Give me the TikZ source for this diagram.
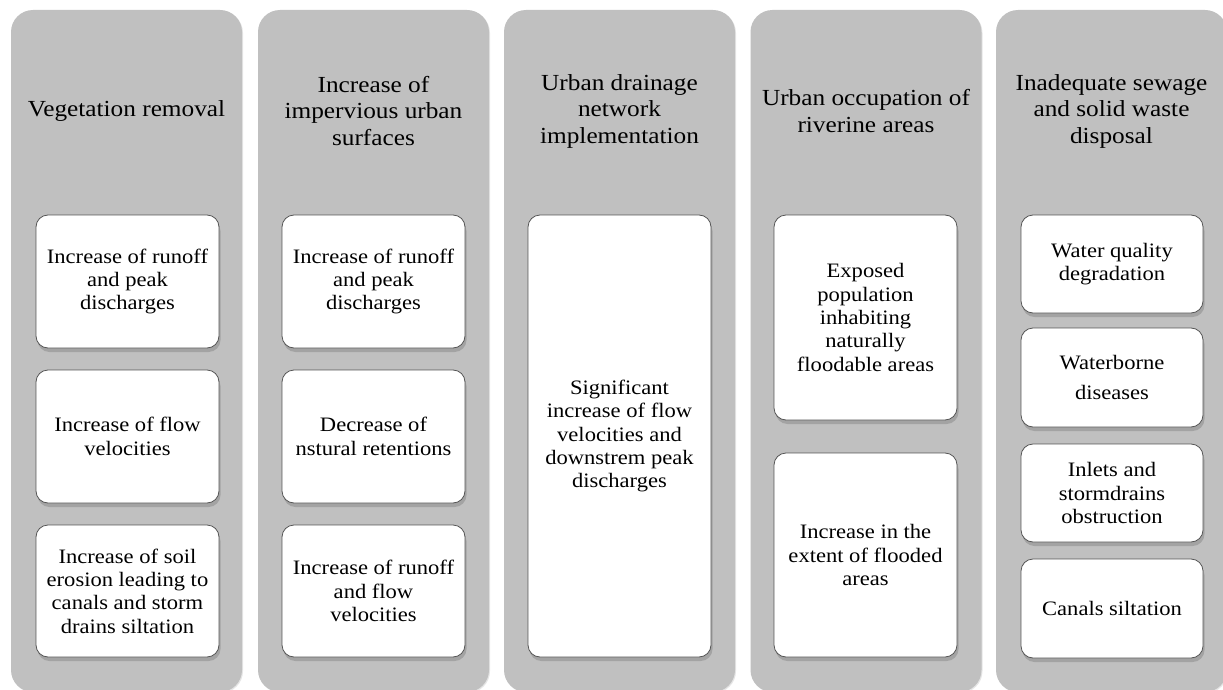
\documentclass[tikz,border=0pt]{standalone}
\usepackage{fontspec}
\setmainfont{Liberation Serif}
\newfontfamily\dfont[FakeStretch=1.1]{Liberation Serif}
\usetikzlibrary{shadows}
\definecolor{colgray}{RGB}{192,192,192}
\definecolor{edgegray}{RGB}{85,85,85}
\begin{document}
\begin{tikzpicture}[x=1pt,y=-1pt,
 column/.style={draw=none, fill=colgray, rounded corners=22pt, minimum width=231pt, minimum height=682pt, inner sep=0pt,
   drop shadow={shadow xshift=1pt, shadow yshift=-1pt, opacity=0.2}},
 title/.style={align=center, font=\dfont\fontsize{23}{26.5}\selectfont, text=black, inner sep=0pt},
 card/.style={draw=edgegray, line width=0.8pt, fill=white, rounded corners=12pt, minimum width=183pt, inner sep=0pt,
   align=center, font=\dfont\fontsize{20.5}{23.3}\selectfont,
   drop shadow={shadow xshift=1.5pt, shadow yshift=-4pt, opacity=0.45}},
]
\useasboundingbox (0,0) rectangle (1223,690);
\fill[white] (0,0) rectangle (1223,690);

% columns
\node[column] (col1) at (126.5,351) {};
\node[column] (col2) at (373.5,351) {};
\node[column] (col3) at (619.5,351) {};
\node[column] (col4) at (866,351) {};
\node[column] (col5) at (1111.5,351) {};

% titles
\node[title] (t1) at (126.5,111) {Vegetation removal};
\node[title] (t2) at (373.5,111) {Increase of\\impervious urban\\surfaces};
\node[title] (t3) at (619.5,111) {Urban drainage\\network\\implementation};
\node[title] (t4) at (866,111) {Urban occupation of\\riverine areas};
\node[title] (t5) at (1111.5,111) {Inadequate sewage\\and solid waste\\disposal};

% column 1
\node[card, minimum height=133pt] (c11) at (127.5,281.5) {Increase of runoff\\and peak\\discharges};
\node[card, minimum height=133pt] (c12) at (127.5,436.5) {Increase of flow\\velocities};
\node[card, minimum height=132pt] (c13) at (127.5,591) {Increase of soil\\erosion leading to\\canals and storm\\drains siltation};

% column 2
\node[card, minimum height=133pt] (c21) at (373.5,281.5) {Increase of runoff\\and peak\\discharges};
\node[card, minimum height=133pt] (c22) at (373.5,436.5) {Decrease of\\nstural retentions};
\node[card, minimum height=132pt] (c23) at (373.5,591) {Increase of runoff\\and flow\\velocities};

% column 3
\node[card, minimum height=442pt] (c31) at (619.5,436) {Significant\\increase of flow\\velocities and\\downstrem peak\\discharges};

% column 4
\node[card, minimum height=205pt] (c41) at (865.5,317.5) {Exposed\\population\\inhabiting\\naturally\\floodable areas};
\node[card, minimum height=204pt] (c42) at (865.5,555) {Increase in the\\extent of flooded\\areas};

% column 5
\node[card, minimum width=182pt, minimum height=98pt] (c51) at (1112,264) {Water quality\\degradation};
\node[card, minimum width=182pt, minimum height=99pt] (c52) at (1112,377.5) {Waterborne\\[7pt]diseases};
\node[card, minimum width=182pt, minimum height=98pt] (c53) at (1112,493) {Inlets and\\stormdrains\\obstruction};
\node[card, minimum width=182pt, minimum height=99pt] (c54) at (1112,608.5) {Canals siltation};
\end{tikzpicture}
\end{document}
